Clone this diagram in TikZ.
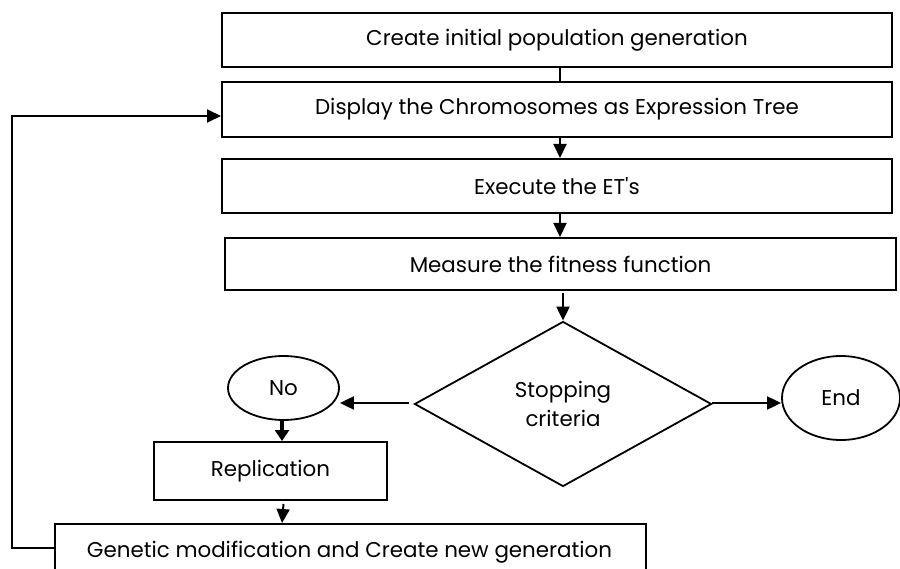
\documentclass[tikz,border=0pt]{standalone}
\usepackage{fontspec}
\setmainfont{Poppins}
\usetikzlibrary{shapes.geometric,arrows.meta}
\begin{document}
\begin{tikzpicture}[x=1pt,y=-1pt,
  every node/.style={font=\fontsize{21.4}{29}\selectfont, text=black},
  box/.style={draw, line width=2pt, rectangle, inner sep=0pt},
  oval/.style={draw, line width=1.8pt, ellipse, inner sep=0pt},
  conn/.style={line width=2pt},
  arr/.style={line width=2pt, -{Triangle[length=14pt,width=13pt]}}]
\useasboundingbox (0,0) rectangle (900,569);
\clip (0,0) rectangle (900,569);
\fill[white] (0,0) rectangle (900,569);

\node[box, minimum width=670pt, minimum height=54pt] (b1) at (557,40) {Create initial population generation};
\node[box, minimum width=670pt, minimum height=55pt] (b2) at (557,109.5) {Display the Chromosomes as Expression Tree};
\node[box, minimum width=670pt, minimum height=54pt] (b3) at (557,186) {Execute the ET\textquotesingle s};
\node[box, minimum width=671pt, minimum height=52pt] (b4) at (560.5,264) {Measure the fitness function};
\node[draw, line width=1.8pt, diamond, minimum width=297pt, minimum height=165pt, inner sep=0pt, align=center] (dia) at (563,404) {Stopping\\criteria};
\node[oval, minimum width=111pt, minimum height=64pt] (no) at (283.5,388) {No};
\node[oval, minimum width=118pt, minimum height=84pt] (end) at (841,398) {End};
\node[box, minimum width=233pt, minimum height=58pt] (rep) at (270.5,471) {Replication};
\node[box, minimum width=591pt, minimum height=62pt, anchor=north west] (gen) at (54,523) {};
\node at (349.5,552) {Genetic modification and Create new generation};

\draw[conn] ([xshift=3pt]b1.south) -- ([xshift=3pt]b2.north);
\draw[arr] ([xshift=3pt]b2.south) -- ([xshift=3pt]b3.north);
\draw[arr] ([xshift=3pt]b3.south) -- ([xshift=3pt]b3.south |- b4.north);
\draw[arr] ([yshift=-2pt]b4.south -| dia.north) -- (dia.north);
\draw[arr] ([xshift=-5pt,yshift=1pt]dia.west) -- ([yshift=1pt]dia.west -| no.east);
\draw[arr] ([yshift=1pt]dia.east) -- ([yshift=1pt]dia.east -| end.west);
\draw[line width=4pt, -{Triangle[length=11pt,width=14pt]}] ([xshift=-1.5pt]no.south) -- ([xshift=-1.5pt]no.south |- rep.north);
\draw[arr] ([yshift=-3pt]rep.south -| no.south) -- ([xshift=-1.5pt]gen.north -| no.south);
\draw[arr] ([yshift=5pt]gen.west |- 0,553) -- (12,548) -- (12,116) -- (b2.west |- 0,116);
\end{tikzpicture}
\end{document}
